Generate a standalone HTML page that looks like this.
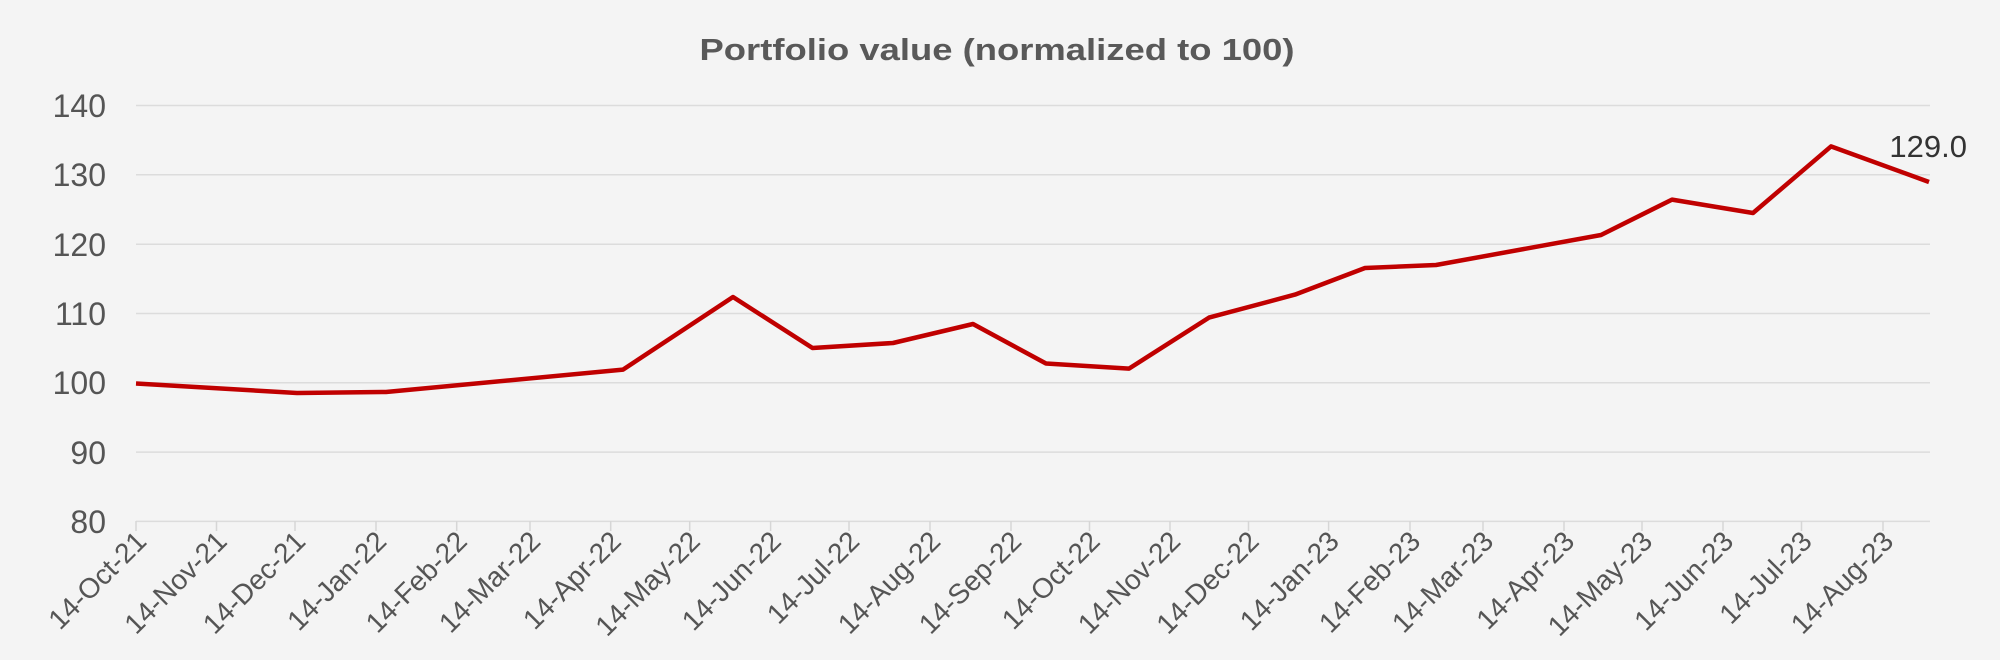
<!DOCTYPE html>
<html><head><meta charset="utf-8"><style>
html,body{margin:0;padding:0;background:#f4f4f4}
svg{display:block}
text{font-family:"Liberation Sans",sans-serif}
</style></head><body>
<svg width="2000" height="660" viewBox="0 0 2000 660" xmlns="http://www.w3.org/2000/svg">
<rect width="2000" height="660" fill="#f4f4f4"/>
<text x="997" y="60" text-anchor="middle" font-size="31" font-weight="bold" fill="#595959" textLength="595" lengthAdjust="spacingAndGlyphs">Portfolio value (normalized to 100)</text>
<g stroke="#dcdcdc" stroke-width="1.5">
<line x1="136" x2="1930" y1="105.5" y2="105.5"/>
<line x1="136" x2="1930" y1="174.8" y2="174.8"/>
<line x1="136" x2="1930" y1="244.2" y2="244.2"/>
<line x1="136" x2="1930" y1="313.5" y2="313.5"/>
<line x1="136" x2="1930" y1="382.8" y2="382.8"/>
<line x1="136" x2="1930" y1="452.1" y2="452.1"/>
<line x1="136" x2="1930" y1="521.4" y2="521.4"/>
</g>
<g stroke="#d6d6d6" stroke-width="1.5">
<line x1="136" x2="136" y1="521" y2="531"/><line x1="216.5" x2="216.5" y1="521" y2="531"/><line x1="295" x2="295" y1="521" y2="531"/><line x1="376" x2="376" y1="521" y2="531"/><line x1="456.7" x2="456.7" y1="521" y2="531"/><line x1="530" x2="530" y1="521" y2="531"/><line x1="610.7" x2="610.7" y1="521" y2="531"/><line x1="689.7" x2="689.7" y1="521" y2="531"/><line x1="770.6" x2="770.6" y1="521" y2="531"/><line x1="849" x2="849" y1="521" y2="531"/><line x1="930" x2="930" y1="521" y2="531"/><line x1="1011" x2="1011" y1="521" y2="531"/><line x1="1089.5" x2="1089.5" y1="521" y2="531"/><line x1="1170" x2="1170" y1="521" y2="531"/><line x1="1248.5" x2="1248.5" y1="521" y2="531"/><line x1="1328.6" x2="1328.6" y1="521" y2="531"/><line x1="1410" x2="1410" y1="521" y2="531"/><line x1="1483" x2="1483" y1="521" y2="531"/><line x1="1564" x2="1564" y1="521" y2="531"/><line x1="1642" x2="1642" y1="521" y2="531"/><line x1="1723" x2="1723" y1="521" y2="531"/><line x1="1801.5" x2="1801.5" y1="521" y2="531"/><line x1="1883" x2="1883" y1="521" y2="531"/>
</g>
<g font-size="32" fill="#555" text-anchor="end">
<text x="106" y="117">140</text><text x="106" y="186">130</text><text x="106" y="256">120</text><text x="106" y="325">110</text><text x="106" y="394">100</text><text x="106" y="464">90</text><text x="106" y="533">80</text>
</g>
<g font-size="28" fill="#555" text-anchor="end">
<text transform="translate(148,543) rotate(-45)">14-Oct-21</text>
<text transform="translate(228.5,543) rotate(-45)">14-Nov-21</text>
<text transform="translate(307,543) rotate(-45)">14-Dec-21</text>
<text transform="translate(388,543) rotate(-45)">14-Jan-22</text>
<text transform="translate(468.7,543) rotate(-45)">14-Feb-22</text>
<text transform="translate(542,543) rotate(-45)">14-Mar-22</text>
<text transform="translate(622.7,543) rotate(-45)">14-Apr-22</text>
<text transform="translate(701.7,543) rotate(-45)">14-May-22</text>
<text transform="translate(782.6,543) rotate(-45)">14-Jun-22</text>
<text transform="translate(861,543) rotate(-45)">14-Jul-22</text>
<text transform="translate(942,543) rotate(-45)">14-Aug-22</text>
<text transform="translate(1023,543) rotate(-45)">14-Sep-22</text>
<text transform="translate(1101.5,543) rotate(-45)">14-Oct-22</text>
<text transform="translate(1182,543) rotate(-45)">14-Nov-22</text>
<text transform="translate(1260.5,543) rotate(-45)">14-Dec-22</text>
<text transform="translate(1340.6,543) rotate(-45)">14-Jan-23</text>
<text transform="translate(1422,543) rotate(-45)">14-Feb-23</text>
<text transform="translate(1495,543) rotate(-45)">14-Mar-23</text>
<text transform="translate(1576,543) rotate(-45)">14-Apr-23</text>
<text transform="translate(1654,543) rotate(-45)">14-May-23</text>
<text transform="translate(1735,543) rotate(-45)">14-Jun-23</text>
<text transform="translate(1813.5,543) rotate(-45)">14-Jul-23</text>
<text transform="translate(1895,543) rotate(-45)">14-Aug-23</text>
</g>
<polyline fill="none" stroke="#c00000" stroke-width="4.5" stroke-linejoin="round" points="136,383.5 297,393 386,392 623,369.6 733,297 812.5,348 893,343 973,324 1046,363.5 1129,368.6 1209,317.6 1295,294.6 1365,268 1436,265 1601,235 1672,199.6 1753,213 1831,146.4 1929,182"/>
<text x="1967" y="157" font-size="31" fill="#333" text-anchor="end">129.0</text>
</svg>
</body></html>
